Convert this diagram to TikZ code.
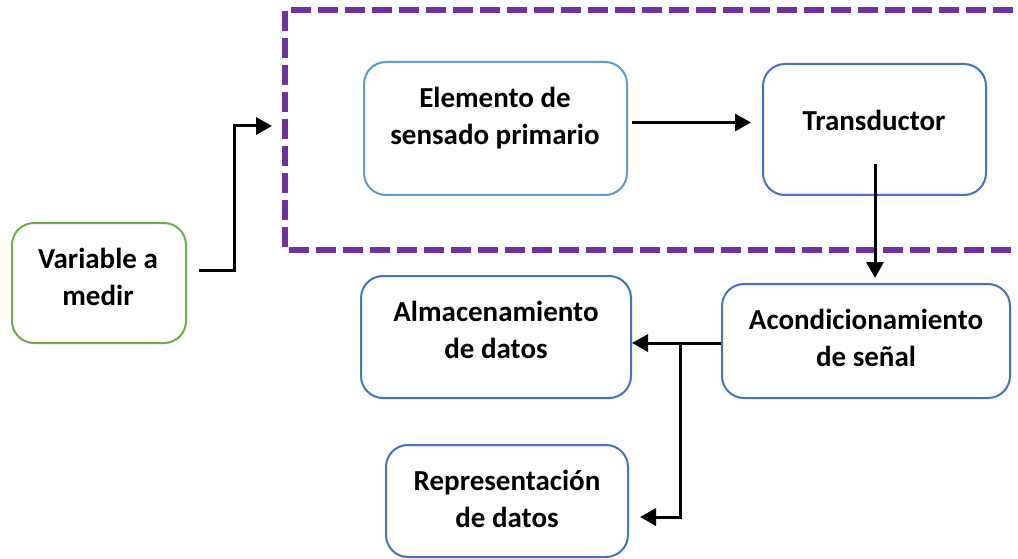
\documentclass[tikz,border=0pt]{standalone}
\usepackage{fontspec}
\setmainfont{Carlito}
\usetikzlibrary{arrows.meta,calc}
\definecolor{vgreen}{HTML}{70AD47}
\definecolor{lblue}{HTML}{5B9BD5}
\definecolor{dblue}{HTML}{4472C4}
\definecolor{purp}{HTML}{7030A0}
\tikzset{
  box/.style={draw, line width=2pt, rounded corners=22pt, inner sep=0pt},
  lbl/.style={align=center, font=\fontsize{29}{37}\selectfont\bfseries, inner sep=0pt},
  arr/.style={line width=3pt, -{Triangle[length=16pt,width=17pt]}},
  frame/.style={draw=purp, line width=6pt, dash pattern=on 20pt off 7pt}
}
\begin{document}
\begin{tikzpicture}[x=1pt,y=-1pt]
\useasboundingbox (0,0) rectangle (1018,559);
\fill[white] (0,0) rectangle (1018,559);
% dashed frame
\draw[frame] (1040,10) -- (285,10) -- (285,250) -- (1040,250);
% boxes
\node[box, draw=vgreen, minimum width=174pt, minimum height=120pt] (var) at (99,283) {};
\node[box, draw=lblue, minimum width=263pt, minimum height=133pt] (elem) at (495.5,128.5) {};
\node[box, draw=dblue, minimum width=223pt, minimum height=131pt] (trans) at (874.5,129.5) {};
\node[box, draw=dblue, minimum width=288pt, minimum height=114pt] (acond) at (866,341) {};
\node[box, draw=dblue, minimum width=270pt, minimum height=122pt] (alm) at (496,337) {};
\node[box, draw=dblue, minimum width=242pt, minimum height=112pt] (rep) at (507,501) {};
% labels
\node[lbl] (varT) at (98,277) {Variable a\\medir};
\node[lbl] (elemT) at (495,118) {Elemento de\\sensado primario};
\node[lbl] (transT) at (874,120) {Transductor};
\node[lbl] (acondT) at (866,338) {Acondicionamiento\\de señal};
\node[lbl] (almT) at (496,330) {Almacenamiento\\de datos};
\node[lbl] (repT) at (507,499) {Representación\\de datos};
% connectors
\coordinate (vin) at (272,126);
\draw[arr] ([xshift=12pt,yshift=13pt]var.east) -| (234,126) -- (vin);
\draw[arr] ([shift={(4pt,6pt)}]elem.east) -- ([shift={(-11pt,6pt)}]elem.east -| trans.west);
\coordinate (tdown) at (875,278);
\draw[arr] (875,164) -- (tdown);
\coordinate (br) at (680,343);
\draw[arr] ([yshift=-2pt]acond.west) -- (alm.east |- br);
\coordinate (rp) at (640,517);
\draw[arr] (br) |- (rp);
\end{tikzpicture}
\end{document}
